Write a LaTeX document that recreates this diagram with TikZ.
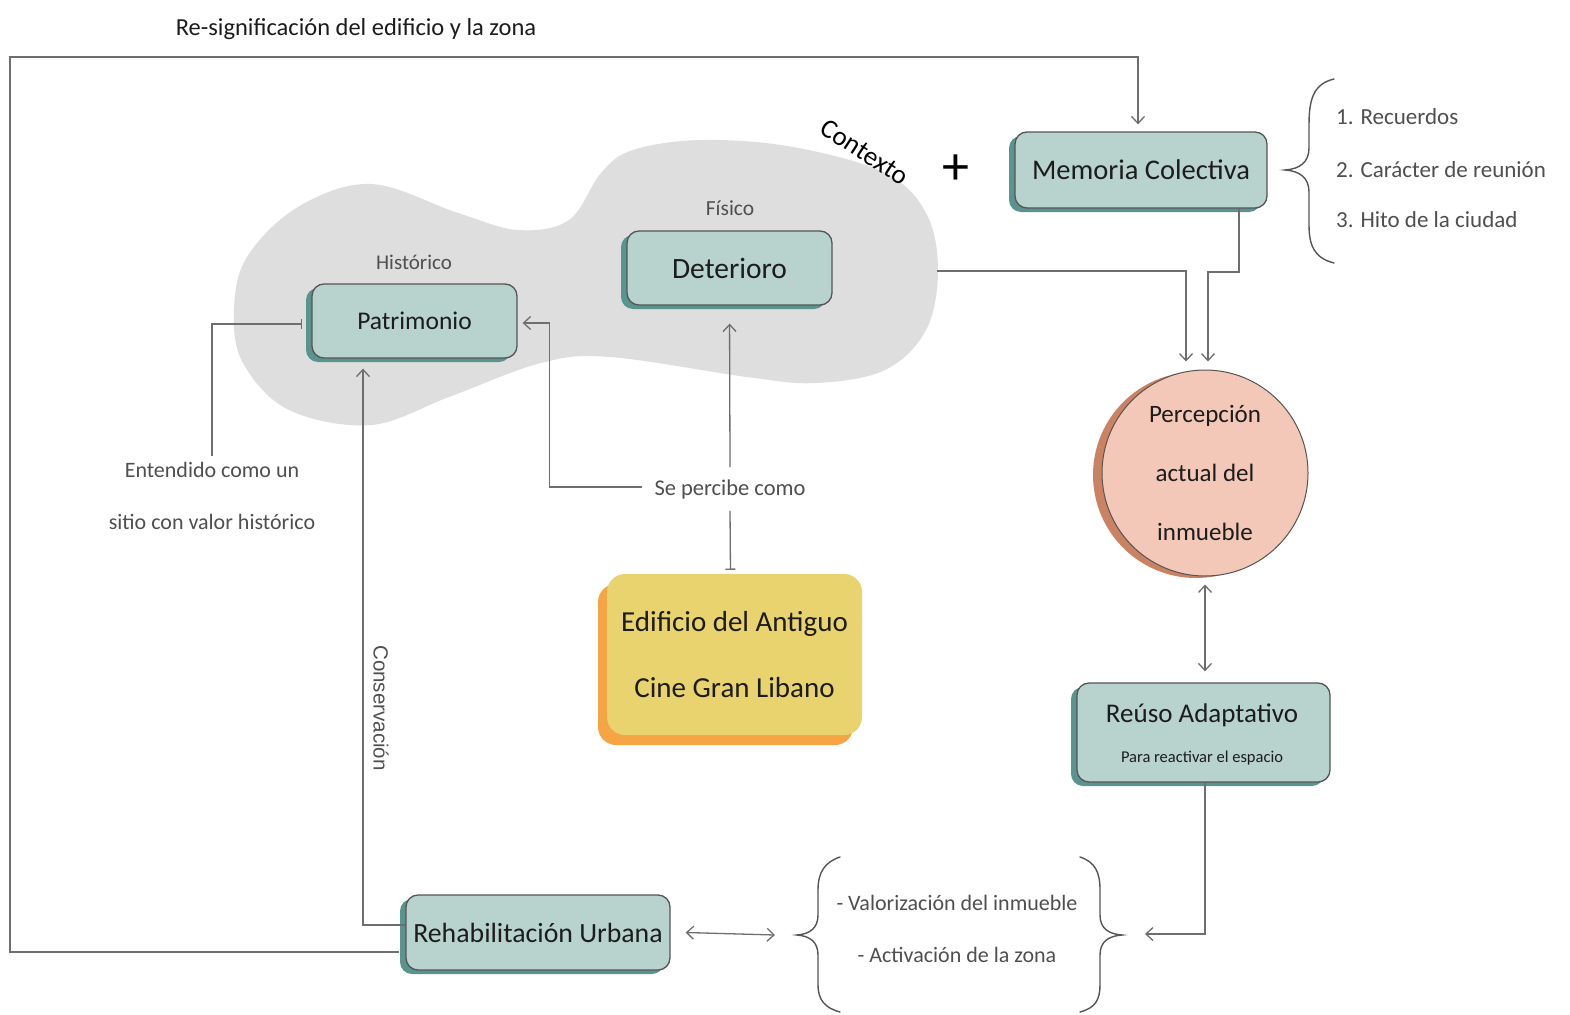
\documentclass[tikz,border=0pt]{standalone}
\usepackage{fontspec}
\setmainfont{Carlito}
\newfontfamily\consfont{Liberation Sans}
\usetikzlibrary{arrows.meta,shadows,calc}
\definecolor{boxfill}{HTML}{B8D3CD}
\definecolor{boxshadow}{HTML}{5A948F}
\definecolor{edgecol}{HTML}{555555}
\definecolor{conncol}{HTML}{6E6E6E}
\definecolor{blobgray}{HTML}{DEDEDE}
\definecolor{yellowbox}{HTML}{E9D36E}
\definecolor{orangeshadow}{HTML}{F6A545}
\definecolor{pinkfill}{HTML}{F3C8B8}
\definecolor{terracotta}{HTML}{CB8262}
\definecolor{labelgray}{HTML}{4F4F4F}
\definecolor{inkcol}{HTML}{1C1C1C}
\newcommand\myfs[2]{\fontsize{#1}{#2}\selectfont}
\begin{document}
\begin{tikzpicture}[x=1pt,y=-1pt,
  tealbox/.style={draw=edgecol, line width=1.3pt, fill=boxfill, rounded corners=12pt,
    general shadow={fill=boxshadow, shadow xshift=-6pt, shadow yshift=-4pt},
    text=inkcol, inner sep=0pt, font=\myfs{26}{30}},
  conn/.style={draw=conncol, line width=1.3pt},
  arr/.style={-{Straight Barb[length=7pt,width=13pt]}},
  darr/.style={{Straight Barb[length=7pt,width=13pt]}-{Straight Barb[length=7pt,width=13pt]}},
  barend/.style={-{Bar[width=10pt]}},
  bracestyle/.style={draw=edgecol, line width=1.4pt, line cap=round},
  glabel/.style={text=labelgray, inner sep=2pt},
]
\useasboundingbox (0,0) rectangle (1570,1014);
\fill[white] (0,0) rectangle (1570,1014);

% context blob
\fill[blobgray] plot[smooth cycle, tension=0.6] coordinates {
  (371,184) (458,213) (518,230) (569,220) (601,173) (633,150) (702,140)
  (793,147) (885,173) (926,213) (938,270) (926,330) (885,370) (816,383)
  (747,377) (610,357) (541,363) (449,397) (371,425) (289,410) (243,363)
  (234,310) (247,257) (298,207)};
\coordinate (blobR) at (937,271);

% title
\node[text=inkcol, font=\myfs{24.5}{28}] (title) at (356,29) {Re-significación del edificio y la zona};

% boxes
\node[tealbox, minimum width=252pt, minimum height=76pt, font=\myfs{28.5}{32}] (mem) at (1141,170) {Memoria Colectiva};
\node[tealbox, minimum width=205pt, minimum height=74pt, font=\myfs{25.5}{30}] (pat) at (414.5,321) {Patrimonio};
\node[tealbox, minimum width=205pt, minimum height=74pt, font=\myfs{29.5}{32}] (det) at (729.5,268) {Deterioro};
\node[tealbox, minimum width=253pt, minimum height=99pt] (reuso) at (1203.5,732.5) {};
\node[text=inkcol, font=\myfs{27}{30}] (reusoT) at (1202,715) {Reúso Adaptativo};
\node[text=inkcol, font=\myfs{16.5}{19}] (reusoS) at (1202,758) {Para reactivar el espacio};
\node[tealbox, minimum width=264pt, minimum height=75pt, font=\myfs{27.8}{32}] (rehab) at (538,932.5) {Rehabilitación Urbana};

\node[fill=yellowbox, rounded corners=18pt, minimum width=255pt, minimum height=161pt,
  general shadow={fill=orangeshadow, shadow xshift=-9pt, shadow yshift=-10pt},
  text=inkcol, align=center, font=\myfs{29}{66}, inner sep=0pt] (edif) at (734.5,654.5)
  {Edificio del Antiguo\\Cine Gran Libano};

\node[circle, minimum size=206pt, fill=pinkfill, draw=edgecol, line width=1pt,
  general shadow={fill=terracotta, shadow xshift=-9pt, shadow yshift=-2pt},
  text=inkcol, align=center, font=\myfs{25}{59}, inner sep=0pt] (circ) at (1205,473)
  {Percepción\\actual del\\inmueble};

% labels
\node[glabel, font=\myfs{21}{24}] (hist) at (414,262) {Histórico};
\node[glabel, font=\myfs{21.5}{24}] (fis) at (730,208) {Físico};
\node[text=black, font=\myfs{27}{30}, rotate=-33, inner sep=0pt] (ctx) at (865,152) {Contexto};
\node[text=black, font=\myfs{54}{60}] (plus) at (956,170) {+};
\node[glabel, font=\myfs{22.5}{26}, inner sep=12pt] (perc) at (730,489) {Se percibe como};
\node[glabel, font=\myfs{22}{52}, align=center, inner sep=6pt] (ent) at (212,496)
  {Entendido como un\\sitio con valor histórico};
\node[text=labelgray, font=\consfont\myfs{20.5}{24}, rotate=-90] (cons) at (381,708) {Conservación};

% list to the right of Memoria
\draw[bracestyle] (1334,79) .. controls (1313,84) and (1309,100) .. (1309,125) -- (1309,148)
  .. controls (1309,162) and (1300,169) .. (1285,170)
  .. controls (1300,171) and (1309,178) .. (1309,192) -- (1309,225)
  .. controls (1309,245) and (1314,258) .. (1334,263);
\node[glabel, anchor=west, font=\myfs{23}{26}] (l1) at (1334,117) {1. Recuerdos};
\node[glabel, anchor=west, font=\myfs{23}{26}] (l2) at (1334,170) {2. Carácter de reunión};
\node[glabel, anchor=west, font=\myfs{23}{26}] (l3) at (1334,220) {3. Hito de la ciudad};

% bottom braces
\draw[bracestyle] (840,857) .. controls (825,862) and (818,872) .. (818,890) -- (818,915)
  .. controls (818,928) and (810,934) .. (797,935)
  .. controls (810,936) and (818,942) .. (818,955) -- (818,985)
  .. controls (818,1000) and (825,1008) .. (840,1012);
\draw[bracestyle] (1080,857) .. controls (1095,862) and (1100,872) .. (1100,890) -- (1100,915)
  .. controls (1100,928) and (1108,934) .. (1122,935)
  .. controls (1108,936) and (1100,942) .. (1100,955) -- (1100,985)
  .. controls (1100,1000) and (1095,1008) .. (1080,1012);
\node[glabel, font=\myfs{22}{26}] (v1) at (957,903) {- Valorización del inmueble};
\node[glabel, font=\myfs{22}{26}] (v2) at (957,955) {- Activación de la zona};
\coordinate (brL) at (775,935);
\coordinate (brR) at (1145,934);

% connectors
\coordinate (loopBL) at (10,952);
\coordinate (loopTL) at (10,57);
\draw[conn, arr, shorten >=7pt] ([xshift=-6pt,yshift=-19.5pt]rehab.west) -- (loopBL) -- (loopTL) -| ([xshift=-3pt]mem.north);

\draw[conn, arr, shorten >=10pt] ([yshift=7.5pt]rehab.west) -| ([xshift=-51.5pt]pat.south);

\draw[conn, barend, shorten >=9pt] (ent.north) |- ([yshift=-3pt]pat.west);

\draw[conn, arr, shorten >=18pt] (perc.north) -- (det.south);
\draw[conn, arr, shorten >=5pt] ([yshift=2pt]perc.west) -| ([xshift=32pt,yshift=-2pt]pat.east) -- ([yshift=-2pt]pat.east);
\draw[conn, barend, shorten >=4pt] (perc.south) -- ([xshift=-4pt]edif.north);

\coordinate (mbend) at (1208,272);
\draw[conn, arr, shorten >=8pt] ([xshift=98pt]mem.south) |- (mbend) -- (mbend |- circ.north);
\draw[conn, arr, shorten >=8pt] (blobR) -| ([xshift=-19pt]circ.north);

\draw[conn, darr, shorten <=8pt, shorten >=11pt] (circ.south) -- (circ.south |- reuso.north);
\draw[conn, arr] ([xshift=1.5pt]reuso.south) |- (brR);
\draw[conn, darr] ([xshift=15pt]rehab.east) -- (brL);
\end{tikzpicture}
\end{document}
